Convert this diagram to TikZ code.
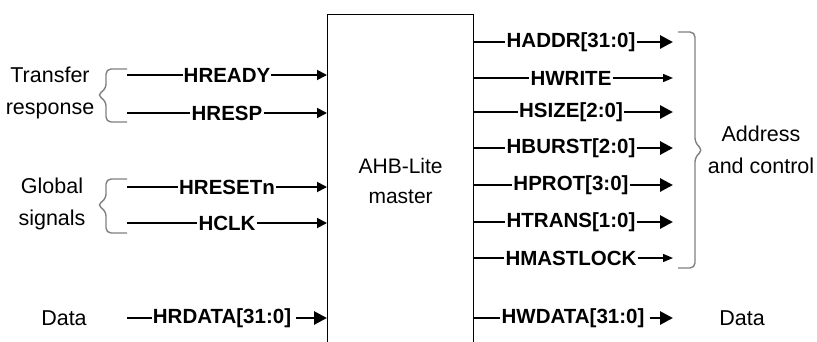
\documentclass[tikz,border=0pt]{standalone}
\usepackage{fontspec}
\setmainfont{Liberation Sans}
\usetikzlibrary{arrows.meta}

\begin{document}
\begin{tikzpicture}[
        x=1pt, y=-1pt,
        block/.style={
            draw,
            line width=1.3pt,
            minimum width=146pt,
            minimum height=332pt,
            anchor=north west,
            align=center,
            font=\fontsize{21}{30}\selectfont
        },
        signal/.style={
            inner sep=1pt,
            font=\fontsize{20.5}{24}\selectfont\bfseries
        },
        group/.style={
            align=center,
            font=\fontsize{21.5}{32}\selectfont
        },
        wire/.style={line width=1.8pt},
        bus/.style={line width=2.8pt},
        inarrow/.style={
            wire,
            -{Triangle[length=10pt,width=10pt]}
        },
        busarrow/.style={
            bus,
            -{Triangle[length=13pt,width=13pt]}
        },
        wirearrow/.style={
            line width=1.4pt,
            -{Triangle[length=10pt,width=8pt]}
        },
        brace/.style={
            draw=gray,
            line width=1.4pt,
            rounded corners=5pt
        }
    ]
    
    \useasboundingbox (0,0) rectangle (817,341);
    
    \node[block] (master) at (327,14) {AHB-Lite\\master};
    
    % free ends of the wires
    \coordinate (lstart) at (127,0);
    \coordinate (rend) at (673,0);
    
    % inputs
    \node[signal] (hready) at (227,75) {HREADY};
    \node[signal] (hresp) at (227,113) {HRESP};
    \node[signal] (hresetn) at (227,187) {HRESETn};
    \node[signal] (hclk) at (227,223) {HCLK};
    \node[signal] (hrdata) at (222,318) {HRDATA[31:0]};
    
    \draw[wire] (lstart |- hready) -- (hready);
    \draw[inarrow] (hready) -- (hready -| master.west);
    \draw[wire] (lstart |- hresp) -- (hresp);
    \draw[inarrow] (hresp) -- (hresp -| master.west);
    \draw[wire] (lstart |- hresetn) -- (hresetn);
    \draw[inarrow] (hresetn) -- (hresetn -| master.west);
    \draw[wire] (lstart |- hclk) -- (hclk);
    \draw[inarrow] (hclk) -- (hclk -| master.west);
    \draw[bus] (lstart |- hrdata) -- (hrdata);
    \draw[busarrow, shorten <=4pt] (hrdata) -- (hrdata -| master.west);
    
    % outputs
    \node[signal] (haddr) at (571,42) {HADDR[31:0]};
    \node[signal] (hwrite) at (571,78) {HWRITE};
    \node[signal] (hsize) at (571,112) {HSIZE[2:0]};
    \node[signal] (hburst) at (571,148) {HBURST[2:0]};
    \node[signal] (hprot) at (571,185) {HPROT[3:0]};
    \node[signal] (htrans) at (571,222) {HTRANS[1:0]};
    \node[signal] (hmastlock) at (571,258) {HMASTLOCK};
    \node[signal] (hwdata) at (573,318) {HWDATA[31:0]};
    
    \draw[bus] (master.east |- haddr) -- (haddr);
    \draw[busarrow] (haddr) -- (haddr -| rend);
    \draw[line width=1.4pt] (master.east |- hwrite) -- (hwrite);
    \draw[wirearrow] (hwrite) -- (hwrite -| rend);
    \draw[bus] (master.east |- hsize) -- (hsize);
    \draw[busarrow] (hsize) -- (hsize -| rend);
    \draw[bus] (master.east |- hburst) -- (hburst);
    \draw[busarrow] (hburst) -- (hburst -| rend);
    \draw[bus] (master.east |- hprot) -- (hprot);
    \draw[busarrow] (hprot) -- (hprot -| rend);
    \draw[bus] (master.east |- htrans) -- (htrans);
    \draw[busarrow] (htrans) -- (htrans -| rend);
    \draw[line width=1.4pt] (master.east |- hmastlock) -- (hmastlock);
    \draw[wirearrow] (hmastlock) -- (hmastlock -| rend);
    \draw[bus] (master.east |- hwdata) -- (hwdata);
    \draw[busarrow, shorten <=4pt] (hwdata) -- (hwdata -| rend);
    
    % groups
    \node[group] (transfer) at (50,93) {Transfer\\response};
    \node[group] (global) at (52,204) {Global\\signals};
    \node[group] (ldata) at (64,318) {Data};
    \node[group] (addrctrl) at (761,150) {Address\\and control};
    \node[group] (rdata) at (742,318) {Data};
    
    \draw[brace] (127,69) -- (106,69) -- (106,89) -- (97,95) -- (106,101) -- (106,122) -- (127,122);
    \draw[brace] (127,179) -- (106,179) -- (106,199) -- (97,205) -- (106,211) -- (106,233) -- (127,233);
    \draw[brace] (678,32) -- (695,32) -- (695,143) -- (703,150) -- (695,157) -- (695,268) -- (678,268);
    
\end{tikzpicture}
\end{document}
